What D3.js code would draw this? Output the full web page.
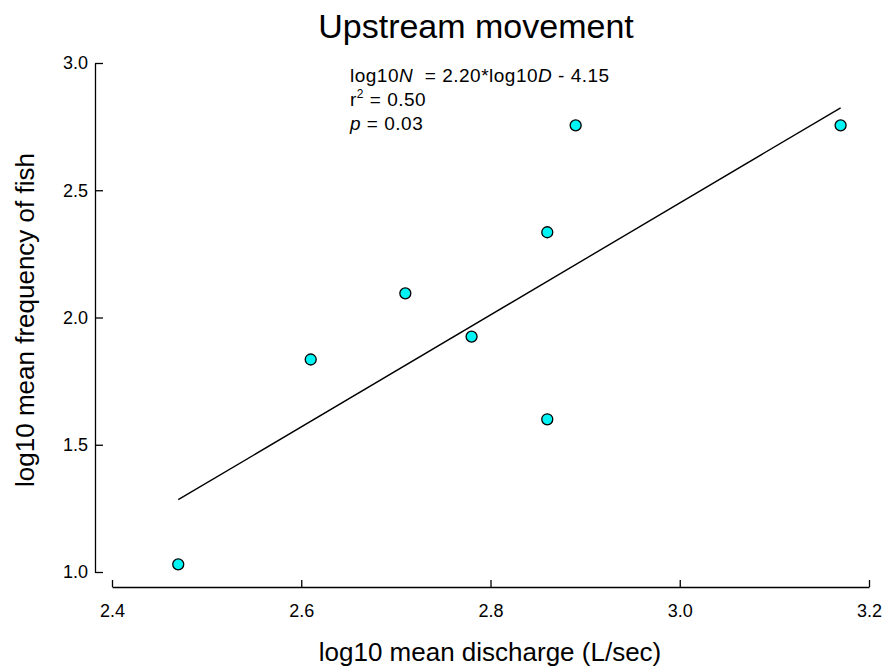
<!DOCTYPE html>
<html>
<head>
<meta charset="utf-8">
<script src="https://cdn.jsdelivr.net/npm/d3@7"></script>
<style>
  body { margin: 0; background: #fff; }
  svg { display: block; font-family: "Liberation Sans", Arial, sans-serif; }
</style>
</head>
<body>
<svg id="chart" width="888" height="669"></svg>
<script>
// log10 mean discharge (L/sec) and log10 mean frequency of fish
const discharge = [2.47, 2.61, 2.71, 2.78, 2.86, 2.86, 2.89, 3.17];
const frequency = [1.03, 1.835, 2.095, 1.925, 2.335, 1.60, 2.755, 2.755];
const xTicks = [2.4, 2.6, 2.8, 3.0, 3.2];
const yTicks = [1.0, 1.5, 2.0, 2.5, 3.0];
const slope = 2.20, intercept = -4.15;
const r2 = "0.50", pval = "0.03";

const svg = d3.select("#chart");
const x = d3.scaleLinear().domain([2.4, 3.2]).range([112, 869]);
const y = d3.scaleLinear().domain([1.0, 3.0]).range([572, 63]);

// title
svg.append("text").attr("x", 476).attr("y", 38).attr("text-anchor", "middle")
  .style("font-size", "34px").text("Upstream movement");

// x axis (offset below the plot, ticks pointing inward)
const xAxis = svg.append("g").attr("transform", "translate(0,587)")
  .call(d3.axisBottom(x).tickValues(xTicks).tickFormat(d3.format(".1f"))
    .tickSizeInner(-7).tickSizeOuter(0).tickPadding(17));
xAxis.select(".domain").attr("stroke-width", 1.3);
xAxis.selectAll(".tick line").attr("stroke-width", 1.3);
xAxis.selectAll("text").style("font-size", "18px").attr("fill", "#000")
  .style("font-family", "Liberation Sans, Arial, sans-serif");

// y axis (offset left of the plot, ticks pointing inward)
const yAxis = svg.append("g").attr("transform", "translate(95,0)")
  .call(d3.axisLeft(y).tickValues(yTicks).tickFormat(d3.format(".1f"))
    .tickSizeInner(-8).tickSizeOuter(0).tickPadding(7));
yAxis.select(".domain").attr("stroke-width", 1.3);
yAxis.selectAll(".tick line").attr("stroke-width", 1.3);
yAxis.selectAll("text").style("font-size", "18px").attr("fill", "#000")
  .style("font-family", "Liberation Sans, Arial, sans-serif");

// axis labels
svg.append("text").attr("x", 490).attr("y", 661).attr("text-anchor", "middle")
  .style("font-size", "26px").text("log10 mean discharge (L/sec)");
svg.append("text").attr("transform", "translate(34,320) rotate(-90)")
  .attr("text-anchor", "middle").style("font-size", "26px")
  .text("log10 mean frequency of fish");

// regression line over the data range
const xMin = d3.min(discharge), xMax = d3.max(discharge);
svg.append("line")
  .attr("x1", x(xMin)).attr("y1", y(slope * xMin + intercept))
  .attr("x2", x(xMax)).attr("y2", y(slope * xMax + intercept))
  .attr("stroke", "#000").attr("stroke-width", 1.4);

// data points
svg.append("g").selectAll("circle").data(discharge).join("circle")
  .attr("cx", d => x(d)).attr("cy", (d, i) => y(frequency[i]))
  .attr("r", 5.5).attr("fill", "#00f4f4")
  .attr("stroke", "#000").attr("stroke-width", 1.3);

// regression statistics
const ann = svg.append("g").style("font-size", "19px").style("letter-spacing", "0.5px");
const t1 = ann.append("text").attr("x", 350).attr("y", 82);
t1.append("tspan").text("log10");
t1.append("tspan").attr("font-style", "italic").text("N");
t1.append("tspan").attr("xml:space", "preserve").text("  = " + slope.toFixed(2) + "*log10");
t1.append("tspan").attr("font-style", "italic").text("D");
t1.append("tspan").text(" - " + Math.abs(intercept).toFixed(2));
const t2 = ann.append("text").attr("x", 350).attr("y", 106);
t2.append("tspan").text("r");
t2.append("tspan").style("font-size", "12px").attr("dy", -8).text("2");
t2.append("tspan").attr("dy", 8).text(" = " + r2);
const t3 = ann.append("text").attr("x", 350).attr("y", 130);
t3.append("tspan").attr("font-style", "italic").text("p");
t3.append("tspan").text(" = " + pval);
</script>
</body>
</html>
